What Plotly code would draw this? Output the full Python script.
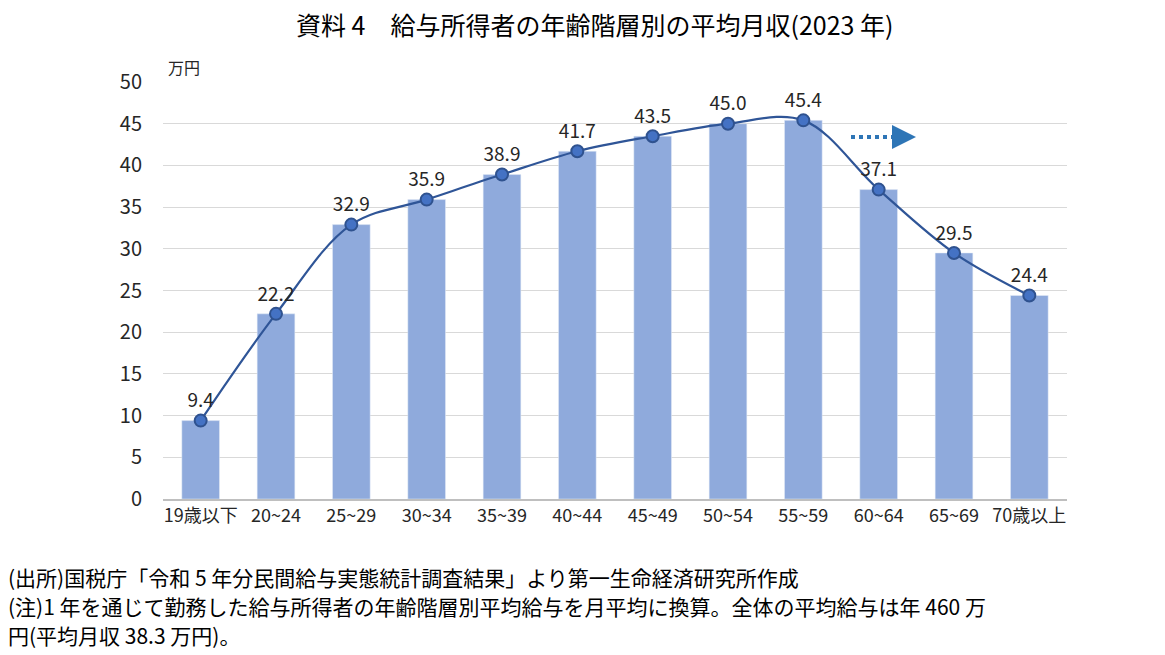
import plotly.graph_objects as go

categories = ["19歳以下", "20~24", "25~29", "30~34", "35~39", "40~44", "45~49",
              "50~54", "55~59", "60~64", "65~69", "70歳以上"]
values = [9.4, 22.2, 32.9, 35.9, 38.9, 41.7, 43.5, 45.0, 45.4, 37.1, 29.5, 24.4]
labels = [f"{v:.1f}" for v in values]
y_ticks = list(range(0, 51, 5))

title = "資料 4　給与所得者の年齢階層別の平均月収(2023 年)"
note1 = "(出所)国税庁「令和 5 年分民間給与実態統計調査結果」より第一生命経済研究所作成"
note2 = "(注)1 年を通じて勤務した給与所得者の年齢階層別平均給与を月平均に換算。全体の平均給与は年 460 万"
note3 = "円(平均月収 38.3 万円)。"

cjk = "Noto Sans CJK JP"

# page body has an 8px offset; layout below compensates
L, T, W, H = 155, 74, 904, 417


def px(xr):
    return (xr - 8 - L) / W


def py(yr):
    return (T + H - (yr - 8)) / H


fig = go.Figure()
fig.add_trace(go.Bar(x=categories, y=values, marker_color="#8FAADC", width=0.5,
                     hoverinfo="skip"))
fig.add_trace(go.Scatter(x=categories, y=values, mode="lines+markers+text",
                         line=dict(color="#2F5597", width=2.2, shape="spline", smoothing=1.0),
                         marker=dict(size=12, color="#4472C4", line=dict(color="#2F528F", width=2)),
                         text=labels, textposition="top center",
                         textfont=dict(size=19, color="#262626", family=cjk)))

fig.update_layout(
    width=1165, height=655,
    margin=dict(l=L, r=1165 - L - W, t=T, b=655 - T - H),
    paper_bgcolor="white", plot_bgcolor="white",
    showlegend=False,
    xaxis=dict(range=[-0.5, 11.5], showgrid=False, showline=True, linecolor="#BFBFBF",
               linewidth=1.5, tickfont=dict(size=18, color="#262626", family=cjk), ticks=""),
    yaxis=dict(range=[0, 50], tickvals=y_ticks, showgrid=True, gridcolor="#D9D9D9",
               gridwidth=1.2, zeroline=False, ticks="", ticklabelstandoff=20,
               tickfont=dict(size=20, color="#262626", family=cjk)),
    font=dict(family=cjk),
)

# title as annotation
fig.add_annotation(xref="paper", yref="paper", x=px(594), y=py(24),
                   xanchor="center", yanchor="middle", text=title, showarrow=False,
                   font=dict(size=25, color="#000000", family=cjk))

fig.add_annotation(x=px(166), xref="paper", y=py(67), yref="paper", xanchor="left",
                   yanchor="middle", text="万円", showarrow=False,
                   font=dict(size=16, color="#262626", family=cjk))

# dotted arrow
fig.add_shape(type="line", xref="paper", yref="paper", x0=px(851), x1=px(898),
              y0=py(137), y1=py(137), line=dict(color="#2E75B6", width=4, dash="dot"))
fig.add_annotation(xref="paper", yref="paper", x=px(916), y=py(137),
                   ax=-20, ay=0, axref="pixel", ayref="pixel",
                   showarrow=True, arrowhead=2, arrowsize=1.2, arrowwidth=4,
                   arrowcolor="#2E75B6", text="")

for i, t in enumerate([note1, note2, note3]):
    fig.add_annotation(xref="paper", yref="paper", x=px(6), y=py(577 + 29 * i),
                       xanchor="left", yanchor="middle", text=t, showarrow=False,
                       font=dict(size=21, color="#000000", family=cjk))

fig.write_html("out.html")
